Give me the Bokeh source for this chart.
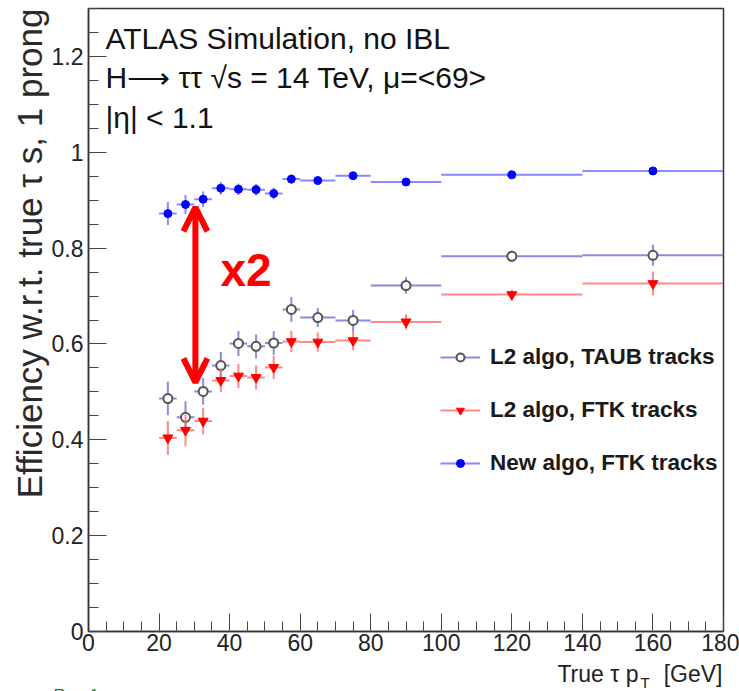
import math
from bokeh.plotting import figure
from bokeh.models import (Range1d, FixedTicker, Label, Arrow, OpenHead, Legend,
                          LegendItem, ColumnDataSource, Title)
from bokeh.embed import file_html
from bokeh.resources import INLINE

# ---- data ----
bin_lo = [20, 25, 30, 35, 40, 45, 50, 55, 60, 70, 80, 100, 140]
bin_hi = [25, 30, 35, 40, 45, 50, 55, 60, 70, 80, 100, 140, 180]

new_ftk = [0.872, 0.891, 0.902, 0.925, 0.923, 0.922, 0.914, 0.944, 0.941, 0.951, 0.938, 0.953, 0.961]
new_ftk_err = [0.024, 0.020, 0.016, 0.013, 0.012, 0.012, 0.012, 0.010, 0.008, 0.007, 0.005, 0.005, 0.006]

l2_taub = [0.486, 0.447, 0.501, 0.555, 0.601, 0.595, 0.602, 0.672, 0.655, 0.649, 0.722, 0.783, 0.785]
l2_taub_err = [0.035, 0.033, 0.028, 0.028, 0.026, 0.025, 0.025, 0.026, 0.020, 0.022, 0.017, 0.012, 0.022]

l2_ftk = [0.404, 0.420, 0.439, 0.524, 0.533, 0.530, 0.551, 0.605, 0.604, 0.607, 0.646, 0.703, 0.726]
l2_ftk_err = [0.035, 0.033, 0.028, 0.025, 0.025, 0.025, 0.024, 0.022, 0.020, 0.020, 0.016, 0.010, 0.025]

x_ticks = [0, 20, 40, 60, 80, 100, 120, 140, 160, 180]
y_ticks = [0, 0.2, 0.4, 0.6, 0.8, 1.0, 1.2]
y_tick_labels = ["0", "0.2", "0.4", "0.6", "0.8", "1", "1.2"]

labels = ["L2 algo, TAUB tracks", "L2 algo, FTK tracks", "New algo, FTK tracks"]
header = ["ATLAS Simulation, no IBL",
          "H\u27f6 \u03c4\u03c4 \u221as = 14 TeV, \u03bc=<69>",
          "|\u03b7| < 1.1"]
y_title = "Efficiency w.r.t. true \u03c4 s, 1 prong"

FONT = "Liberation Sans"

p = figure(width=739, height=660, x_range=Range1d(0, 180), y_range=Range1d(0, 1.3),
           output_backend="svg", toolbar_location=None, title=None,
           min_border_left=88, min_border_right=16, min_border_top=8, min_border_bottom=29)
p.grid.visible = False
p.outline_line_color = "#333333"
p.outline_line_width = 1.5
p.background_fill_color = "white"
p.border_fill_color = "white"

for ax in (p.xaxis[0], p.yaxis[0]):
    ax.axis_line_color = "#333333"
    ax.axis_line_width = 1.5
    ax.major_tick_in = 18
    ax.major_tick_out = 0
    ax.minor_tick_in = 10
    ax.minor_tick_out = 0
    ax.major_tick_line_color = "#444444"
    ax.minor_tick_line_color = "#444444"
    ax.major_label_text_font = FONT
    ax.major_label_text_font_size = "23px"
    ax.major_label_text_color = "#222222"
    ax.major_label_standoff = 5
p.xaxis.major_label_standoff = 2

p.xaxis.ticker = FixedTicker(ticks=x_ticks, minor_ticks=list(range(0, 181, 5)))
p.yaxis.ticker = FixedTicker(ticks=y_ticks, minor_ticks=[round(i * 0.05, 2) for i in range(27)])
p.yaxis.major_label_overrides = {t: l for t, l in zip(y_ticks, y_tick_labels)}

p.add_layout(Title(text=y_title, align="right", text_font=FONT, text_font_size="35px",
                   text_font_style="normal", text_color="#2a2a2a", standoff=0), "left")


def series(vals, errs):
    xc = [(a + b) / 2 for a, b in zip(bin_lo, bin_hi)]
    return ColumnDataSource(dict(
        lo=bin_lo, hi=bin_hi, xc=xc, y=vals,
        ylo=[v - e for v, e in zip(vals, errs)],
        yhi=[v + e for v, e in zip(vals, errs)]))


# L2 TAUB
s = series(l2_taub, l2_taub_err)
h1 = p.segment("lo", "y", "hi", "y", source=s, line_color="#6f6fd0", line_width=2, line_alpha=0.8)
p.segment("xc", "ylo", "xc", "yhi", source=s, line_color="#6f6fd0", line_width=2, line_alpha=0.8)
m1 = p.scatter("xc", "y", source=s, marker="circle", size=9, fill_color="white",
               line_color="#555555", line_width=2)
# L2 FTK
s = series(l2_ftk, l2_ftk_err)
h2 = p.segment("lo", "y", "hi", "y", source=s, line_color="#ff6a6a", line_width=2, line_alpha=0.8)
p.segment("xc", "ylo", "xc", "yhi", source=s, line_color="#ff6a6a", line_width=2, line_alpha=0.8)
m2 = p.scatter("xc", "y", source=s, marker="inverted_triangle", size=10, fill_color="#ff0000",
               line_color="#ff0000", line_width=1)
# New FTK
s = series(new_ftk, new_ftk_err)
h3 = p.segment("lo", "y", "hi", "y", source=s, line_color="#6a6aff", line_width=2, line_alpha=0.8)
p.segment("xc", "ylo", "xc", "yhi", source=s, line_color="#6a6aff", line_width=2, line_alpha=0.8)
m3 = p.scatter("xc", "y", source=s, marker="circle", size=8, fill_color="#0000ff",
               line_color="#0000ff", line_width=1)

legend = Legend(items=[LegendItem(label=labels[0], renderers=[h1, m1]),
                       LegendItem(label=labels[1], renderers=[h2, m2]),
                       LegendItem(label=labels[2], renderers=[h3, m3])],
                location=(352, 155), glyph_width=40, glyph_height=20, label_height=20,
                spacing=27, padding=0, margin=0, label_standoff=10,
                background_fill_alpha=0, border_line_alpha=0,
                label_text_font=FONT, label_text_font_size="22.5px",
                label_text_font_style="bold", label_text_color="#1a1a1a")
p.add_layout(legend)

# red double arrow and x2
p.add_layout(Arrow(start=OpenHead(size=24, line_color="#ff0000", line_width=6),
                   end=OpenHead(size=24, line_color="#ff0000", line_width=6),
                   x_start=30.3, y_start=0.52, x_end=30.3, y_end=0.885,
                   line_color="#ff0000", line_width=6))
p.add_layout(Label(x=37.4, y=0.754, text="x2", text_color="#ff0000", text_font=FONT,
                   text_font_size="46px", text_font_style="bold", text_baseline="middle"))

# header texts (inside the frame)
for i, t in enumerate(header):
    p.add_layout(Label(x=4.8, y=1.238 - 0.083 * i, text=t, text_font=FONT,
                       text_font_size="30px", text_color="#111111", text_baseline="middle"))

# strip below the plot holding the x-axis title and the "Run 1" note
st = figure(width=739, height=31, x_range=Range1d(0, 739), y_range=Range1d(0, 31),
            x_axis_type=None, y_axis_type=None, title=None,
            output_backend="svg", toolbar_location=None,
            min_border_left=0, min_border_right=0, min_border_top=0, min_border_bottom=0)
st.grid.visible = False
st.outline_line_color = None
st.background_fill_color = "white"
st.border_fill_color = "white"
st.add_layout(Label(x=638, y=18, text="True \u03c4 p", text_font=FONT, text_font_size="23px",
                    text_color="#222222", text_align="right", text_baseline="middle"))
st.add_layout(Label(x=640, y=9, text="T", text_font=FONT, text_font_size="15px",
                    text_color="#222222", text_align="left", text_baseline="middle"))
st.add_layout(Label(x=722, y=18, text="[GeV]", text_font=FONT, text_font_size="23px",
                    text_color="#222222", text_align="right", text_baseline="middle"))
st.add_layout(Label(x=53, y=6, text="Run 1", text_font=FONT, text_font_size="17px",
                    text_color="#1a8a1a", text_align="left", text_baseline="top"))

open("out.html", "w").write(file_html([p, st], INLINE))
